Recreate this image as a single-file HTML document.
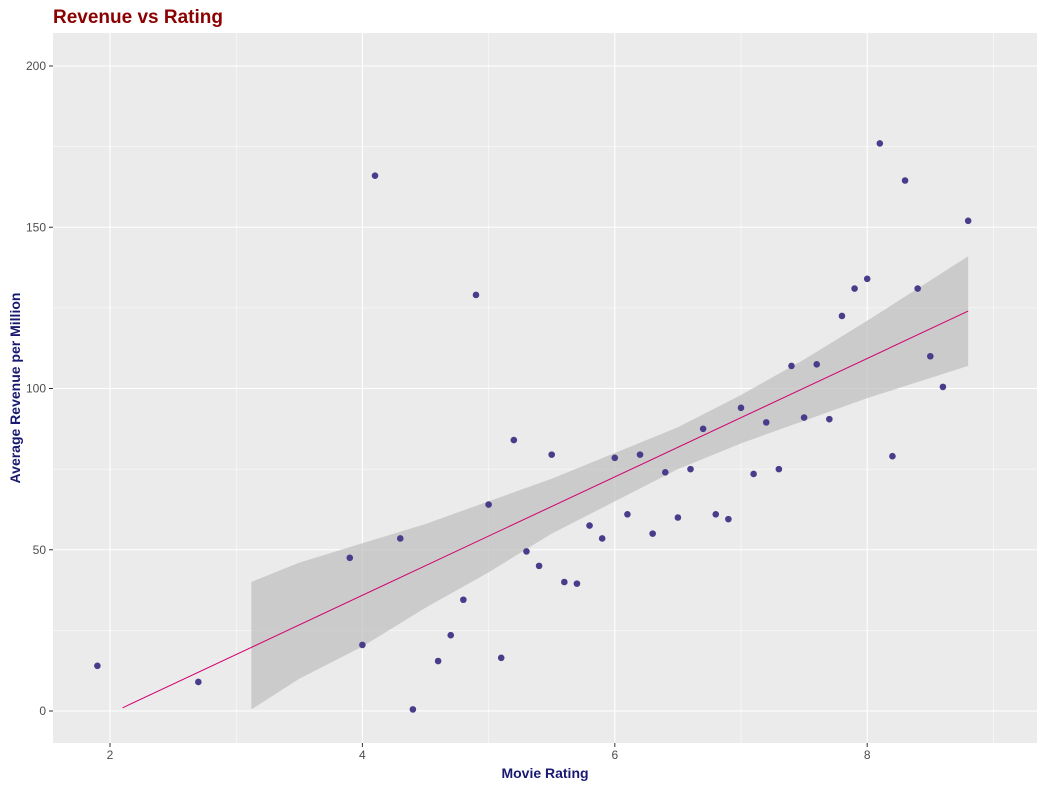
<!DOCTYPE html>
<html><head><meta charset="utf-8"><style>
body{margin:0;background:#fff;font-family:"Liberation Sans",sans-serif}
</style></head><body>
<svg id="c" width="1045" height="788" xmlns="http://www.w3.org/2000/svg">
<text x="53" y="23" font-size="19" font-weight="bold" fill="#8B0000">Revenue vs Rating</text>
<rect x="53" y="33" width="984" height="710" fill="#EBEBEB"/>
<g id="grid"></g><g id="rib"></g><g id="pts"></g><g id="axes"></g>
<text x="545" y="778" font-size="14" font-weight="bold" fill="#191970" text-anchor="middle">Movie Rating</text>
<text transform="translate(20,388) rotate(-90)" font-size="14" font-weight="bold" fill="#191970" text-anchor="middle">Average Revenue per Million</text>
</svg>
<script>
const xs=[1.9,2.7,3.9,4.0,4.1,4.3,4.4,4.6,4.7,4.8,4.9,5.0,5.1,5.2,5.3,5.4,5.5,5.6,5.7,5.8,5.9,6.0,6.1,6.2,6.3,6.4,6.5,6.6,6.7,6.8,6.9,7.0,7.1,7.2,7.3,7.4,7.5,7.6,7.7,7.8,7.9,8.0,8.1,8.2,8.3,8.4,8.5,8.6,8.8];
const ys=[14,9,47.5,20.5,166,53.5,0.5,15.5,23.5,34.5,129,64,16.5,84,49.5,45,79.5,40,39.5,57.5,53.5,78.5,61,79.5,55,74,60,75,87.5,61,59.5,94,73.5,89.5,75,107,91,107.5,90.5,122.5,131,134,176,79,164.5,131,110,100.5,152];
const ribX=[3.12,3.5,4,4.5,5,5.5,6,6.5,7,7.5,8,8.4,8.8];
const ribLo=[0.5,10,20,32,43,55,65,75,83,90,97,102,107];
const ribHi=[40,46,52,58,65,72,80,88,98,109,121,131,141];
const fitX=[2.1,8.8];
const fitY=[1,124];
const xTicks=[2,4,6,8];
const yTicks=[0,50,100,150,200];
const X=v=>109+(v-2)*126.2+1;
const Y=v=>711-v*3.225;
const NS='http://www.w3.org/2000/svg';
function mk(p,t,a){const e=document.createElementNS(NS,t);for(const k in a)e.setAttribute(k,a[k]);document.getElementById(p).appendChild(e);return e;}
for(let v=1;v<=9;v+=1){const major=v%2===0;const px=X(v);if(px<53||px>1037)continue;
const e=mk('grid','line',{x1:px,x2:px,y1:33,y2:743,stroke:'#fff','stroke-width':major?1.1:0.5});

}
for(let v=-25;v<=225;v+=25){const px=Y(v);if(px<33||px>743)continue;
const e=mk('grid','line',{x1:53,x2:1037,y1:px,y2:px,stroke:'#fff','stroke-width':v%50===0?1.1:0.5});

}
let d='M'+ribX.map((x,i)=>X(x)+','+Y(ribHi[i])).join('L');
for(let i=ribX.length-1;i>=0;i--)d+='L'+X(ribX[i])+','+Y(ribLo[i]);
const r=mk('rib','path',{d:d+'Z',fill:'#bdbdbd','fill-opacity':0.7});


const fl=mk('rib','line',{x1:X(fitX[0]),y1:Y(fitY[0]),x2:X(fitX[1]),y2:Y(fitY[1]),stroke:'#D0006F','stroke-width':1});


xs.forEach((x,i)=>{const c=mk('pts','circle',{cx:X(x),cy:Y(ys[i]),r:3.3,fill:'#483D8B'});

});
xTicks.forEach(v=>{mk('axes','line',{x1:X(v),x2:X(v),y1:743,y2:747,stroke:'#333'});
const t=mk('axes','text',{x:X(v),y:759,'font-size':12,fill:'#4d4d4d','text-anchor':'middle'});t.textContent=v;

});
yTicks.forEach(v=>{mk('axes','line',{x1:49,x2:53,y1:Y(v),y2:Y(v),stroke:'#333'});
const t=mk('axes','text',{x:46,y:Y(v)+4,'font-size':12,fill:'#4d4d4d','text-anchor':'end'});t.textContent=v;

});
</script>
</body></html>
